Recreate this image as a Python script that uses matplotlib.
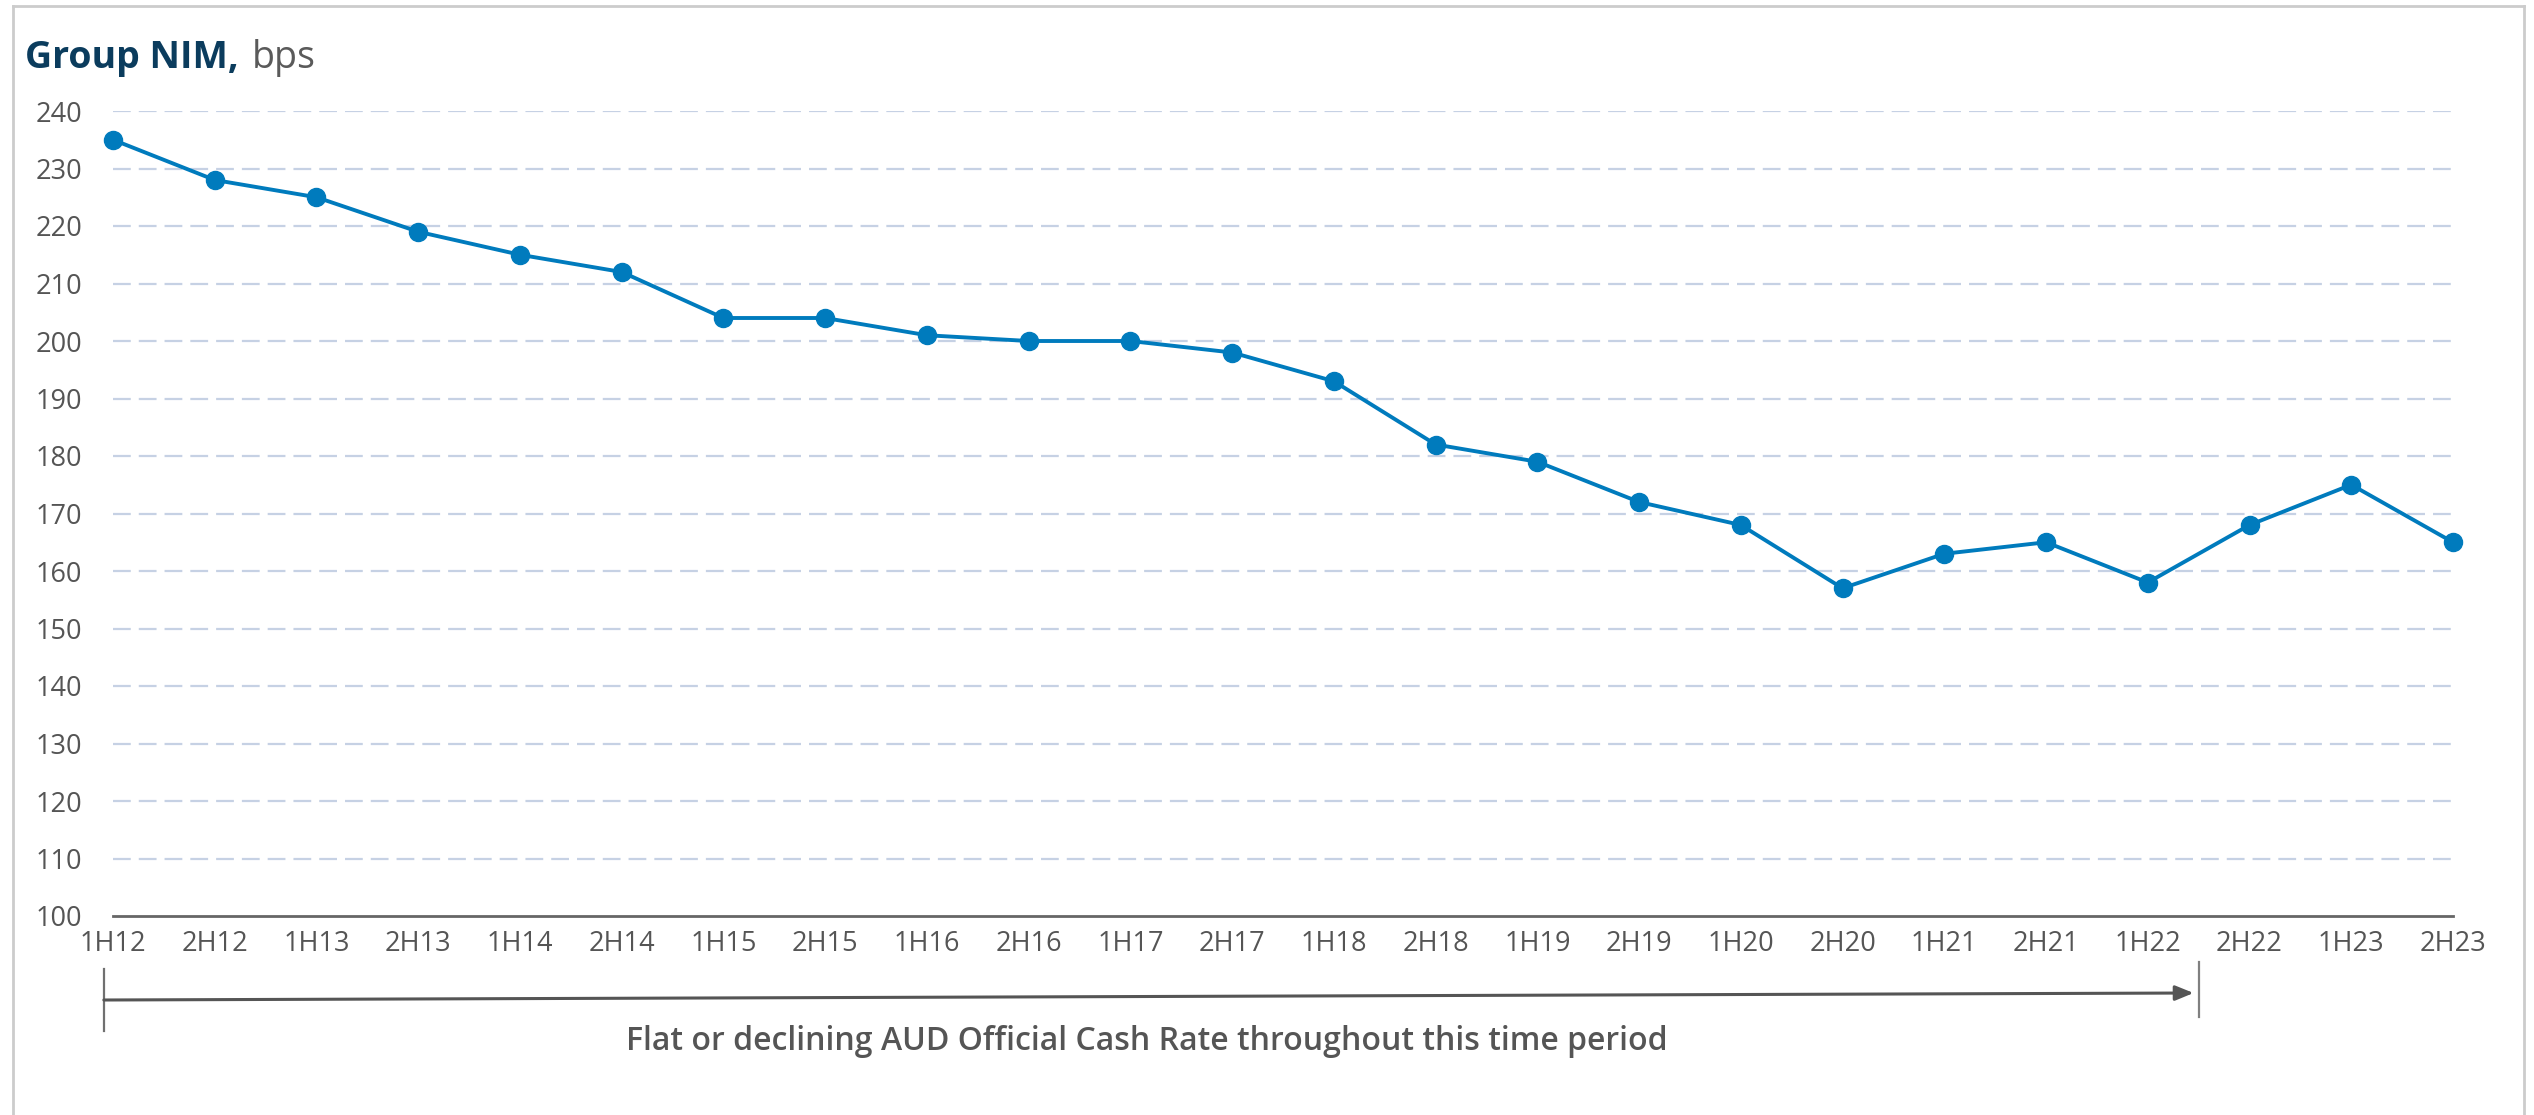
import matplotlib.pyplot as plt
import matplotlib.transforms as mtransforms
import numpy as np

# Group NIM (bps) by half year
periods = ["1H12", "2H12", "1H13", "2H13", "1H14", "2H14", "1H15", "2H15",
           "1H16", "2H16", "1H17", "2H17", "1H18", "2H18", "1H19", "2H19",
           "1H20", "2H20", "1H21", "2H21", "1H22", "2H22", "1H23", "2H23"]
nim = [235, 228, 225, 219, 215, 212, 204, 204,
       201, 200, 200, 198, 193, 182, 179, 172,
       168, 157, 163, 165, 158, 168, 175, 165]
y_ticks = list(range(100, 241, 10))

plt.rcParams['font.family'] = ['Open Sans', 'DejaVu Sans']

W, H = 2534, 1115
fig = plt.figure(figsize=(W / 100, H / 100), dpi=100)
ax = fig.add_axes([113 / W, 1 - 916 / H, 2340 / W, 805 / H])

x = np.arange(len(periods))
ax.plot(x, nim, color="#007bbd", lw=2.8, marker="o", markersize=13,
        clip_on=False, zorder=3)

ax.set_xlim(0, len(periods) - 1)
ax.set_ylim(100, 240)
ax.set_yticks(y_ticks)
ax.set_xticks(x)
ax.set_xticklabels(periods)
ax.tick_params(axis="both", length=0, labelsize=19.5, labelcolor="#555555")
ax.tick_params(axis="y", pad=22)
ax.tick_params(axis="x", pad=10)

for v in y_ticks[1:]:
    ax.axhline(v, color="#c6d1e4", lw=1.6, linestyle=(0, (8, 3.6)), zorder=1)

for s in ["top", "right", "left"]:
    ax.spines[s].set_visible(False)
ax.spines["bottom"].set_color("#666666")
ax.spines["bottom"].set_linewidth(2)

# title
fig.text(25 / W, 1 - 68 / H, "Group NIM,", fontsize=27, fontweight="bold",
         color="#0b3c5d", ha="left", va="baseline")
fig.text(252 / W, 1 - 68 / H, "bps", fontsize=27, color="#5a5a5a",
         ha="left", va="baseline")

# bracket / arrow below the axis
tr = mtransforms.blended_transform_factory(ax.transData, fig.transFigure)
x_left, x_right = -0.09, 20.5
ax.plot([x_left, x_left], [1 - 969 / H, 1 - 1031 / H], color="#707070",
        lw=1.6, transform=tr, clip_on=False)
ax.plot([x_right, x_right], [1 - 962 / H, 1 - 1017 / H], color="#808080",
        lw=1.6, transform=tr, clip_on=False)
ax.annotate("", xy=(x_right - 0.05, 1 - 993 / H), xytext=(x_left, 1 - 1000 / H),
            xycoords=tr, textcoords=tr,
            arrowprops=dict(arrowstyle="-|>,head_length=1.1,head_width=0.45",
                            color="#555555", lw=2.2, shrinkA=0, shrinkB=0))
ax.text(10.16, 1 - 1042 / H,
        "Flat or declining AUD Official Cash Rate throughout this time period",
        transform=tr, ha="center", va="center", fontsize=23,
        fontweight="semibold", color="#555555")

# light frame around the chart
fig.add_artist(plt.Line2D([13 / W, 13 / W], [0, 1 - 6 / H], color="#cccccc",
                          lw=2, transform=fig.transFigure))
fig.add_artist(plt.Line2D([13 / W, 2524 / W], [1 - 6 / H, 1 - 6 / H],
                          color="#cccccc", lw=2, transform=fig.transFigure))
fig.add_artist(plt.Line2D([2524 / W, 2524 / W], [0, 1 - 6 / H], color="#cccccc",
                          lw=2, transform=fig.transFigure))

fig.savefig("out.png", dpi=100, facecolor="white")
